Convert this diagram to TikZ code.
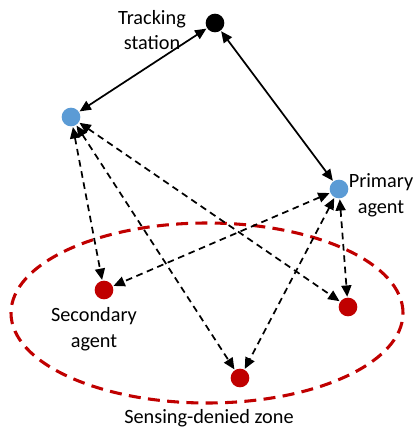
\documentclass[tikz,border=0pt]{standalone}
\usepackage{fontspec}
\setmainfont{Carlito}
\usetikzlibrary{
	positioning,
	arrows.meta
}

\begin{document}
\begin{tikzpicture}[
	x=0.75pt, y=-0.75pt,
	agent/.style = {
		circle, inner sep=0pt,
		minimum size=14pt
	},
	link/.style = {
		{Triangle[length=8.5pt,width=7.5pt]}-{Triangle[length=8.5pt,width=7.5pt]},
		line width=1.3pt, shorten <=0.5pt, shorten >=0.5pt
	},
	sense/.style = {link, dash pattern=on 5pt off 3.5pt},
	txt/.style = {align=center, font=\fontsize{15.2}{19.2}\selectfont}
]
	\useasboundingbox (0,0) rectangle (414,429);

	% sensing-denied zone
	\draw [draw={rgb,255:red,192;green,0;blue,0}, line width=2.3pt,
		dash pattern=on 9pt off 5.5pt]
		(207,313) ellipse [x radius=147pt, y radius=67.5pt];

	\node (ts) [agent, fill=black] at (215,23) {};
	\node (pl) [agent, fill={rgb,255:red,91;green,155;blue,213}] at (71,117) {};
	\node (pr) [agent, fill={rgb,255:red,91;green,155;blue,213}] at (339,189) {};
	\node (s1) [agent, fill={rgb,255:red,192;green,0;blue,0}] at (104,290) {};
	\node (s2) [agent, fill={rgb,255:red,192;green,0;blue,0}] at (240,378) {};
	\node (s3) [agent, fill={rgb,255:red,192;green,0;blue,0}] at (348,307) {};

	\node (tsl) [txt] at (152,30) {Tracking\\station};
	\node (prl) [txt] at (381,195) {Primary\\agent};
	\node (s1l) [txt] at (94,329) {Secondary\\agent};
	\node (zl) [txt] at (209,418) {Sensing-denied zone};

	\draw [link] (ts) -- (pl);
	\draw [link] (ts) -- (pr);

	\draw [sense] (pl) -- (s1);
	\draw [sense] (pl) -- (s2);
	\draw [sense] (pl) -- (s3);
	\draw [sense] (pr) -- (s1);
	\draw [sense] (pr) -- (s2);
	\draw [sense] (pr) -- (s3);
\end{tikzpicture}
\end{document}
